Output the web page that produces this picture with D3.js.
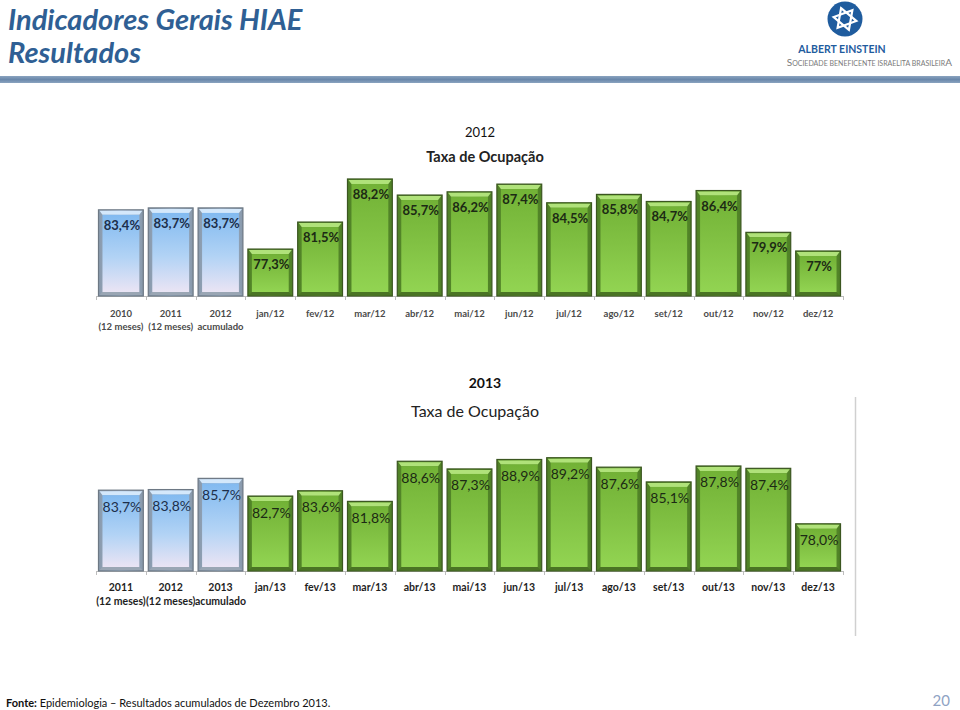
<!DOCTYPE html>
<html><head><meta charset="utf-8">
<script src="https://cdn.jsdelivr.net/npm/d3@7"></script>
<style>
html,body{margin:0;padding:0;background:#fff;}
svg{display:block;font-family:Lato,"Open Sans",sans-serif;}
</style></head>
<body>
<svg id="c" width="960" height="710"></svg>
<script>
// ---- data ----
const cats2012 = ["2010|(12 meses)", "2011|(12 meses)", "2012|acumulado", "jan/12", "fev/12", "mar/12", "abr/12", "mai/12", "jun/12", "jul/12", "ago/12", "set/12", "out/12", "nov/12", "dez/12"];
const vals2012 = [83.4, 83.7, 83.7, 77.3, 81.5, 88.2, 85.7, 86.2, 87.4, 84.5, 85.8, 84.7, 86.4, 79.9, 77.0];
const labels2012 = ["83,4%", "83,7%", "83,7%", "77,3%", "81,5%", "88,2%", "85,7%", "86,2%", "87,4%", "84,5%", "85,8%", "84,7%", "86,4%", "79,9%", "77%"];
const kinds2012 = ["year", "year", "year", "month", "month", "month", "month", "month", "month", "month", "month", "month", "month", "month", "month"];

const cats2013 = ["2011|(12 meses)", "2012|(12 meses)", "2013|acumulado", "jan/13", "fev/13", "mar/13", "abr/13", "mai/13", "jun/13", "jul/13", "ago/13", "set/13", "out/13", "nov/13", "dez/13"];
const vals2013 = [83.7, 83.8, 85.7, 82.7, 83.6, 81.8, 88.6, 87.3, 88.9, 89.2, 87.6, 85.1, 87.8, 87.4, 78.0];
const labels2013 = ["83,7%", "83,8%", "85,7%", "82,7%", "83,6%", "81,8%", "88,6%", "87,3%", "88,9%", "89,2%", "87,6%", "85,1%", "87,8%", "87,4%", "78,0%"];
const kinds2013 = kinds2012;

const titleMain = ["Indicadores Gerais HIAE", "Resultados"];
const chartTitles = [["2012", "Taxa de Ocupação"], ["2013", "Taxa de Ocupação"]];
const footer = ["Fonte:", " Epidemiologia – Resultados acumulados de Dezembro 2013."];
const pageNum = "20";

// ---- drawing ----
const svg = d3.select("#c");
const defs = svg.append("defs");

function lin(id, stops, x2, y2) {
  const g = defs.append("linearGradient").attr("id", id)
    .attr("x1", 0).attr("y1", 0).attr("x2", x2).attr("y2", y2);
  stops.forEach(s => g.append("stop").attr("offset", s[0]).attr("stop-color", s[1]));
}
lin("greenFace", [[0, "#72b236"], [0.5, "#82c244"], [1, "#92d452"]], 0, 1);
lin("greenEdge", [[0, "#4e7f26"], [0.5, "#6aa532"], [1, "#4e7f26"]], 1, 0);
lin("blueFace", [[0, "#82baf0"], [0.55, "#b2d3f5"], [1, "#eae4f4"]], 0, 1);
lin("blueEdge", [[0, "#8898aa"], [0.5, "#a9c2de"], [1, "#8898aa"]], 1, 0);
lin("hdrBar", [[0, "#8aa3bf"], [0.5, "#6a88ab"], [1, "#8aa3bf"]], 0, 1);

// header
svg.append("text").attr("x", 8).attr("y", 30)
  .attr("font-size", 29).attr("font-weight", "bold").attr("font-style", "italic")
  .attr("fill", "#2f5f94").text(titleMain[0]);
svg.append("text").attr("x", 8).attr("y", 63)
  .attr("font-size", 29).attr("font-weight", "bold").attr("font-style", "italic")
  .attr("fill", "#2f5f94").text(titleMain[1]);
svg.append("rect").attr("x", 0).attr("y", 76).attr("width", 960).attr("height", 7).attr("fill", "url(#hdrBar)");

// logo
const logo = svg.append("g");
logo.append("circle").attr("cx", 845).attr("cy", 19).attr("r", 17.5).attr("fill", "#1f5c9e");
const tri = (cx, cy, r, rot) => d3.range(3).map(i => {
  const a = rot + i * 2 * Math.PI / 3;
  return [cx + r * Math.cos(a), cy + r * Math.sin(a)];
});
logo.append("polygon").attr("points", tri(845, 19, 11.5, -Math.PI / 2 - 0.35).join(" "))
  .attr("fill", "none").attr("stroke", "#fff").attr("stroke-width", 2.2);
logo.append("polygon").attr("points", tri(845, 19, 11.5, Math.PI / 2 - 0.35).join(" "))
  .attr("fill", "none").attr("stroke", "#fff").attr("stroke-width", 2.2);
logo.append("text").attr("x", 842).attr("y", 53).attr("text-anchor", "middle")
  .attr("font-size", 10.5).attr("font-weight", "bold").attr("fill", "#1f5c9e").text("ALBERT EINSTEIN");
const sub = logo.append("text").attr("x", 952).attr("y", 66).attr("fill", "#7a7a7a")
  .attr("text-anchor", "end");
sub.append("tspan").attr("font-size", 10).text("S");
sub.append("tspan").attr("font-size", 7).text("OCIEDADE BENEFICENTE ISRAELITA BRASILEIR");
sub.append("tspan").attr("font-size", 10).text("A");

function drawChart(cfg) {
  const g = svg.append("g");
  const x = d3.scaleBand().domain(d3.range(cfg.cats.length))
    .range([96, 843]).paddingInner(0.1).paddingOuter(0.05);
  const y = d3.scaleLinear().domain([70, 90]).range([cfg.base, cfg.base - 20 * cfg.pxPer]);
  const step = x.step();

  // titles
  g.append("text").attr("x", cfg.t1x).attr("y", cfg.t1y).attr("text-anchor", "middle")
    .attr("font-size", cfg.t1size).attr("font-weight", cfg.t1weight).attr("fill", "#111").text(cfg.titles[0]);
  g.append("text").attr("x", cfg.t2x).attr("y", cfg.t2y).attr("text-anchor", "middle")
    .attr("font-size", cfg.t2size).attr("font-weight", cfg.t2weight).attr("fill", "#222").text(cfg.titles[1]);

  // axis
  g.append("line").attr("x1", x.range()[0]).attr("x2", x.range()[1])
    .attr("y1", y(70) + 0.5).attr("y2", y(70) + 0.5).attr("stroke", "#bdbdbd");
  const bounds = d3.range(cfg.cats.length + 1).map(i => x.range()[0] + i * step);
  g.selectAll(".tk").data(bounds).enter().append("line")
    .attr("x1", d => Math.round(d) + 0.5).attr("x2", d => Math.round(d) + 0.5)
    .attr("y1", y(70)).attr("y2", y(70) + 4).attr("stroke", "#bdbdbd");

  const data = cfg.vals.map((v, i) => ({v, i, lab: cfg.labels[i], kind: cfg.kinds[i], cat: cfg.cats[i]}));
  const bars = g.selectAll(".bar").data(data).enter().append("g");
  // outer bevel
  bars.append("rect")
    .attr("x", d => x(d.i)).attr("y", d => y(d.v))
    .attr("width", x.bandwidth()).attr("height", d => y(70) - y(d.v))
    .attr("fill", d => d.kind === "year" ? "url(#blueEdge)" : "url(#greenEdge)")
    .attr("stroke", d => d.kind === "year" ? "#6d7884" : "#3b5620").attr("stroke-width", 1.2);
  // top bevel highlight
  bars.append("polygon").attr("points", d => {
    const x0 = x(d.i), x1 = x0 + x.bandwidth(), t = y(d.v);
    return [[x0 + 1, t + 1], [x1 - 1, t + 1], [x1 - 4, t + 5], [x0 + 4, t + 5]].join(" ");
  }).attr("fill", d => d.kind === "year" ? "#d4e8fb" : "#b0e27a");
  // bottom bevel
  bars.append("polygon").attr("points", d => {
    const x0 = x(d.i), x1 = x0 + x.bandwidth(), b = y(70);
    return [[x0 + 1, b - 1], [x1 - 1, b - 1], [x1 - 4, b - 4], [x0 + 4, b - 4]].join(" ");
  }).attr("fill", d => d.kind === "year" ? "#9aa6b4" : "#4a7424");
  // face
  bars.append("rect")
    .attr("x", d => x(d.i) + 4).attr("y", d => y(d.v) + 5)
    .attr("width", x.bandwidth() - 8).attr("height", d => Math.max(0, y(70) - y(d.v) - 9))
    .attr("fill", d => d.kind === "year" ? "url(#blueFace)" : "url(#greenFace)");

  // value labels
  bars.append("text")
    .attr("x", d => x(d.i) + x.bandwidth() / 2 + 1)
    .attr("y", d => y(d.v) + cfg.labOff)
    .attr("text-anchor", "middle").attr("font-size", cfg.labSize).attr("font-weight", cfg.labWeight)
    .attr("fill", d => d.kind === "year" ? "#1d2f4a" : "#1c2a14")
    .text(d => d.lab);

  // category labels
  const cl = g.selectAll(".cl").data(data).enter().append("text")
    .attr("text-anchor", "middle").attr("font-size", cfg.catSize).attr("font-weight", "bold")
    .attr("fill", cfg.catColor);
  cl.each(function(d) {
    const parts = d.cat.split("|");
    const t = d3.select(this);
    parts.forEach((p, k) => {
      t.append("tspan").attr("x", x(d.i) + x.bandwidth() / 2).attr("y", cfg.catY + k * cfg.catLine).text(p);
    });
  });
}

drawChart({
  cats: cats2012, vals: vals2012, labels: labels2012, kinds: kinds2012, titles: chartTitles[0],
  base: 296, pxPer: 6.43,
  t1x: 480, t1y: 137, t1size: 13, t1weight: "normal",
  t2x: 485, t2y: 162, t2size: 14.5, t2weight: "bold",
  labOff: 20, labSize: 13, labWeight: "bold",
  catY: 317, catLine: 12.5, catSize: 9.5, catColor: "#4a4a4a"
});
drawChart({
  cats: cats2013, vals: vals2013, labels: labels2013, kinds: kinds2013, titles: chartTitles[1],
  base: 571, pxPer: 5.9,
  t1x: 485, t1y: 388, t1size: 14, t1weight: "bold",
  t2x: 475, t2y: 417, t2size: 16, t2weight: "normal",
  labOff: 21.5, labSize: 14, labWeight: "normal",
  catY: 591, catLine: 14, catSize: 10.5, catColor: "#1e1e1e"
});

// right divider line
svg.append("line").attr("x1", 855.5).attr("x2", 855.5).attr("y1", 397).attr("y2", 636)
  .attr("stroke", "#d0d0d0").attr("stroke-width", 1.5);

// footer
const ft = svg.append("text").attr("x", 6).attr("y", 707).attr("font-size", 11).attr("fill", "#111");
ft.append("tspan").attr("font-weight", "bold").text(footer[0]);
ft.append("tspan").text(footer[1]);
svg.append("text").attr("x", 950).attr("y", 706).attr("text-anchor", "end")
  .attr("font-size", 15).attr("fill", "#8fa3c4").text(pageNum);
</script>
</body></html>
